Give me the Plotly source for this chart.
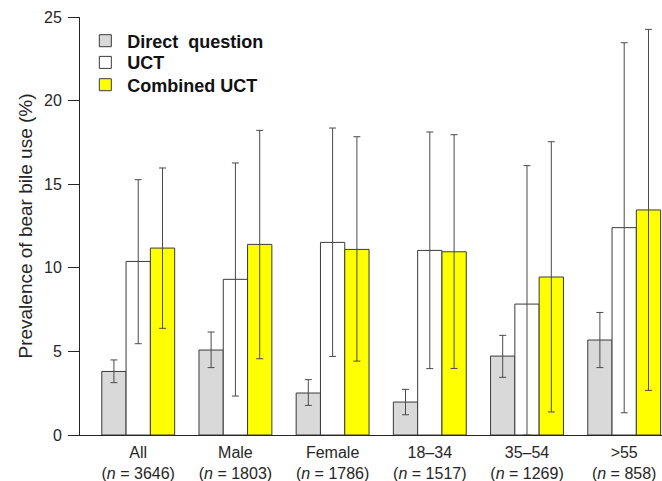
import plotly.graph_objects as go

categories = ["All", "Male", "Female", "18–34", "35–54", ">55"]
sample_n = [3646, 1803, 1786, 1517, 1269, 858]

direct = [3.80, 5.08, 2.51, 1.97, 4.72, 5.68]
direct_lo = [3.13, 4.03, 1.77, 1.21, 3.45, 4.03]
direct_hi = [4.49, 6.16, 3.31, 2.73, 5.96, 7.33]

uct = [10.38, 9.31, 11.52, 11.04, 7.83, 12.40]
uct_lo = [5.46, 2.33, 4.70, 3.97, 0.0, 1.33]
uct_hi = [15.27, 16.27, 18.36, 18.12, 16.11, 23.46]

comb = [11.18, 11.40, 11.10, 10.96, 9.45, 13.46]
comb_lo = [6.38, 4.56, 4.42, 3.98, 1.38, 2.67]
comb_hi = [15.97, 18.22, 17.84, 17.96, 17.54, 24.26]

series_names = ["Direct&nbsp;&nbsp;question", "UCT", "Combined UCT"]
series_colors = ["#d9d9d9", "#ffffff", "#ffff00"]
series_vals = [direct, uct, comb]
series_lo = [direct_lo, uct_lo, comb_lo]
series_hi = [direct_hi, uct_hi, comb_hi]
legend_ids = ["legend", "legend2", "legend3"]
legend_rows_y = [0.9426, 0.8907, 0.8373]

xpos = list(range(len(categories)))
ticktext = [f"{c}<br>(<i>n</i> = {n})" for c, n in zip(categories, sample_n)]

FONT = "Liberation Sans, Arial, sans-serif"
DARK = "#262626"

fig = go.Figure()
for name, vals, lo, hi, color, lg in zip(series_names, series_vals, series_lo,
                                         series_hi, series_colors, legend_ids):
    fig.add_trace(go.Bar(
        x=xpos, y=vals, name=name, legend=lg,
        marker=dict(color=color, line=dict(color="#3a3a3a", width=1)),
        error_y=dict(
            type="data", symmetric=False,
            array=[h - v for h, v in zip(hi, vals)],
            arrayminus=[v - l for v, l in zip(vals, lo)],
            color="#4a4a4a", thickness=1, width=3.5,
        ),
    ))

legend_style = dict(
    xanchor="left", yanchor="middle",
    bgcolor="rgba(0,0,0,0)",
    font=dict(family=FONT, size=18, color="#111111", weight="bold"),
    itemwidth=34,
)
layout_legends = {}
for lg, ly in zip(legend_ids, legend_rows_y):
    layout_legends[lg] = dict(x=0.0057, y=ly, **legend_style)

fig.update_layout(
    width=662, height=481,
    margin=dict(l=80, r=0, t=17, b=46),
    paper_bgcolor="white", plot_bgcolor="white",
    barmode="group", bargap=0.25, bargroupgap=0,
    font=dict(family=FONT, color=DARK, size=16),
    showlegend=True,
    xaxis=dict(
        range=[-0.599, 5.389],
        tickmode="array", tickvals=xpos, ticktext=ticktext,
        showline=True, linecolor=DARK, linewidth=1,
        ticks="", showgrid=False, zeroline=False,
        tickfont=dict(size=16, color=DARK),
        ticklabelstandoff=3,
    ),
    yaxis=dict(
        range=[0, 25],
        tickmode="array", tickvals=[0, 5, 10, 15, 20, 25],
        showline=True, linecolor=DARK, linewidth=1,
        ticks="outside", ticklen=11, tickcolor=DARK, tickwidth=1,
        showgrid=False, zeroline=False,
        tickfont=dict(size=16, color=DARK),
        ticklabelstandoff=3,
        title=dict(text="Prevalence of bear bile use (%)",
                   font=dict(size=19, color=DARK), standoff=6),
    ),
    **layout_legends,
)

fig.write_html(
    "out.html",
    config={"displayModeBar": False},
    post_script="document.body.style.margin='0';document.body.style.overflow='hidden';",
)
